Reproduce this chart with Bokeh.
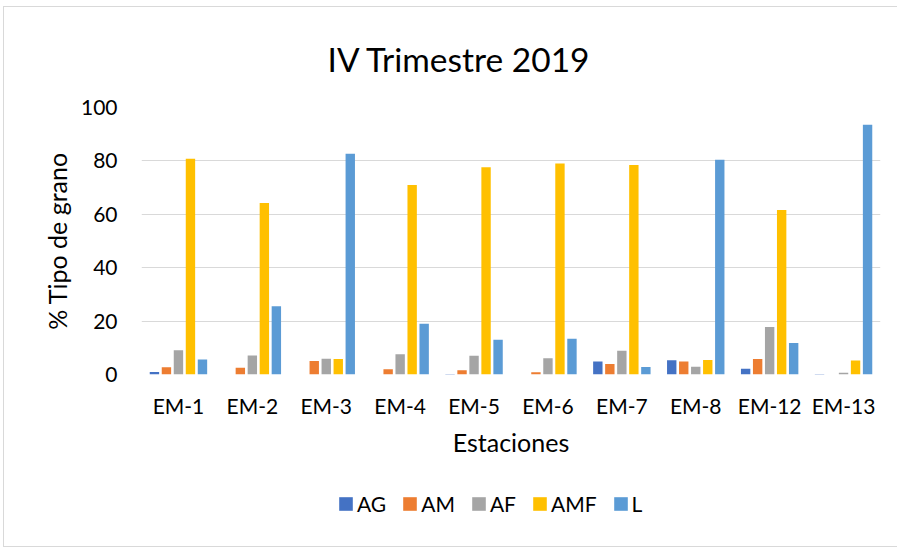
from bokeh.plotting import figure
from bokeh.models import ColumnDataSource, Range1d, FixedTicker, Legend, LegendItem
from bokeh.layouts import column
from bokeh.transform import dodge
from bokeh.embed import file_html
from bokeh.resources import INLINE

stations = ["EM-1", "EM-2", "EM-3", "EM-4", "EM-5", "EM-6", "EM-7", "EM-8", "EM-12", "EM-13"]
series = ["AG", "AM", "AF", "AMF", "L"]
AG = [0.9, 0.0, 0.0, 0.0, 0.2, 0.0, 4.9, 5.3, 2.2, 0.2]
AM = [2.7, 2.5, 5.1, 2.0, 1.6, 0.8, 3.9, 4.9, 5.8, 0.0]
AF = [9.1, 7.1, 5.9, 7.6, 7.0, 6.1, 8.9, 2.9, 17.8, 0.7]
AMF = [80.8, 64.2, 5.8, 71.0, 77.6, 79.0, 78.5, 5.4, 61.6, 5.2]
L = [5.6, 25.6, 82.7, 19.0, 13.0, 13.4, 2.8, 80.4, 11.8, 93.5]
colors = ["#4472C4", "#ED7D31", "#A5A5A5", "#FFC000", "#5B9BD5"]
y_ticks = [0, 20, 40, 60, 80, 100]

FONT = "Lato"

source = ColumnDataSource(dict(station=stations, AG=AG, AM=AM, AF=AF, AMF=AMF, L=L))

p = figure(x_range=stations, y_range=Range1d(0, 100),
           width=893, height=469, output_backend="svg", toolbar_location=None,
           min_border_left=137, min_border_right=17, min_border_top=99,
           min_border_bottom=102)
p.outline_line_color = None
p.background_fill_color = "white"
p.border_fill_color = "white"

offsets = [-0.325, -0.1625, 0.0, 0.1625, 0.325]
for name, col, off in zip(series, colors, offsets):
    p.vbar(x=dodge("station", off, range=p.x_range), top=name, width=0.127,
           source=source, fill_color=col, line_color=None)

# title
p.title.text = "IV Trimestre 2019"
p.title.align = "left"
p.title.offset = 186
p.title.text_font = FONT
p.title.text_font_size = "33.5px"
p.title.text_font_style = "normal"
p.title.text_color = "#000000"
p.title.standoff = 58

# axes
p.xaxis.axis_line_color = None
p.xaxis.major_tick_line_color = None
p.xaxis.minor_tick_line_color = None
p.xaxis.major_tick_out = 0
p.xaxis.major_label_text_font = FONT
p.xaxis.major_label_text_font_size = "21px"
p.xaxis.major_label_text_color = "#000000"
p.xaxis.major_label_standoff = 18
p.xaxis.axis_label = "Estaciones"
p.xaxis.axis_label_text_font = FONT
p.xaxis.axis_label_text_font_size = "25px"
p.xaxis.axis_label_text_font_style = "normal"
p.xaxis.axis_label_text_color = "#000000"
p.xaxis.axis_label_standoff = 6

p.yaxis.ticker = FixedTicker(ticks=y_ticks)
p.yaxis.axis_line_color = None
p.yaxis.major_tick_line_color = None
p.yaxis.minor_tick_line_color = None
p.yaxis.major_tick_out = 0
p.yaxis.major_label_text_font = FONT
p.yaxis.major_label_text_font_size = "21px"
p.yaxis.major_label_text_color = "#000000"
p.yaxis.major_label_standoff = 24
p.yaxis.axis_label = "% Tipo de grano"
p.yaxis.axis_label_text_font = FONT
p.yaxis.axis_label_text_font_size = "25px"
p.yaxis.axis_label_text_font_style = "normal"
p.yaxis.axis_label_text_color = "#000000"
p.yaxis.axis_label_standoff = 6

p.xgrid.grid_line_color = None
p.ygrid.ticker = FixedTicker(ticks=y_ticks)
p.ygrid.grid_line_color = "#d9d9d9"
p.ygrid.grid_line_width = 1

# legend strip (separate figure below the chart)
lp = figure(width=893, height=70, output_backend="svg", toolbar_location=None,
            x_range=Range1d(0, 1), y_range=Range1d(0, 1),
            min_border_left=0, min_border_right=0, min_border_top=0, min_border_bottom=0)
lp.axis.visible = False
lp.grid.visible = False
lp.outline_line_color = None
lp.background_fill_color = "white"
lp.border_fill_color = "white"
# zero-height proxy bars, only used to draw the legend swatches
proxy = ColumnDataSource(dict(x=[0.5], top=[0.0]))
items = []
for name, col in zip(series, colors):
    r = lp.vbar(x="x", top="top", bottom="top", width=0.01, source=proxy,
                fill_color=col, line_color=None)
    items.append(LegendItem(label=name, renderers=[r]))
legend = Legend(items=items, orientation="horizontal", location=(196, 30),
                glyph_width=17, glyph_height=17, label_standoff=3, spacing=15,
                padding=0, margin=0, border_line_color=None, background_fill_alpha=0,
                label_text_font=FONT, label_text_font_size="21px", label_text_color="#000000",
                label_height=14)
lp.add_layout(legend, "center")

layout = column(p, lp, spacing=0,
                styles={"border": "1px solid #d9d9d9", "margin-left": "3px", "margin-top": "6px"})

open("out.html", "w").write(file_html(layout, INLINE))
